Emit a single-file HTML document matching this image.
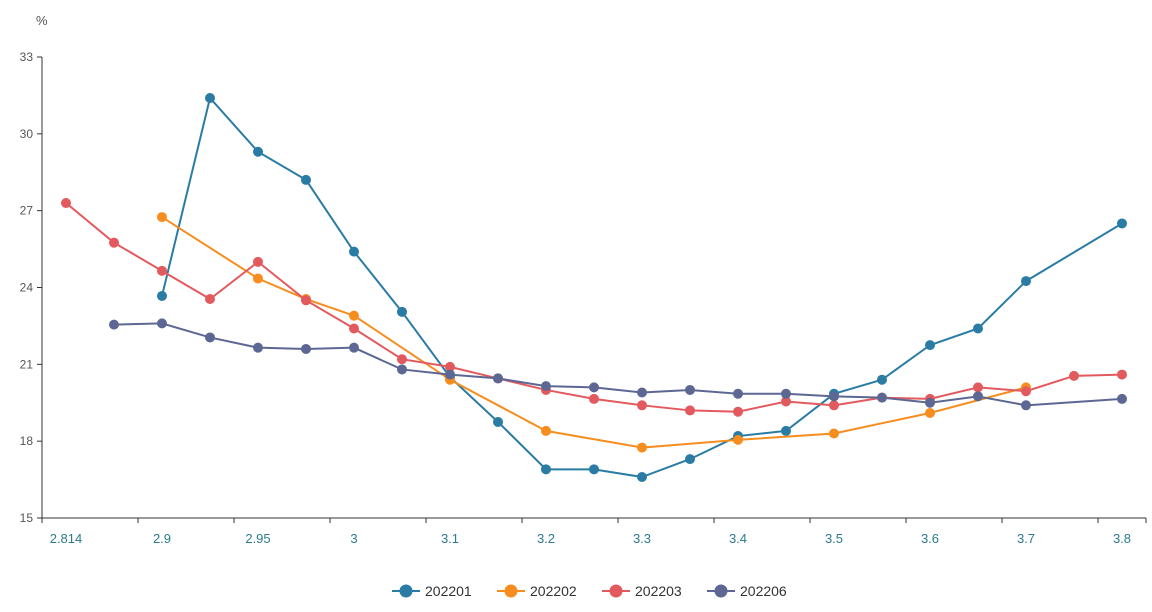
<!DOCTYPE html>
<html><head><meta charset="utf-8"><style>
body{margin:0;background:#fff;font-family:"Liberation Sans",sans-serif}
svg{display:block}
</style></head><body>
<svg id="c" width="1152" height="612"></svg>
<script>
const categories=["2.814","2.85","2.9","2.925","2.95","2.975","3","3.05","3.1","3.15","3.2","3.25","3.3","3.35","3.4","3.45","3.5","3.55","3.6","3.65","3.7","3.75","3.8"];
const s202201=[null,null,23.67,31.4,29.3,28.2,25.4,23.05,20.5,18.75,16.9,16.9,16.6,17.3,18.2,18.4,19.85,20.4,21.75,22.4,24.25,null,26.5];
const s202202=[null,null,26.75,null,24.35,23.55,22.9,null,20.4,null,18.4,null,17.75,null,18.05,null,18.3,null,19.1,null,20.1,null,null];
const s202203=[27.3,25.75,24.65,23.55,25,23.5,22.4,21.2,20.9,20.45,20,19.65,19.4,19.2,19.15,19.55,19.4,19.7,19.65,20.1,19.95,20.55,20.6];
const s202206=[null,22.55,22.6,22.05,21.65,21.6,21.65,20.8,20.6,20.45,20.15,20.1,19.9,20,19.85,19.85,19.75,19.7,19.5,19.75,19.4,null,19.65];
const yTicks=[15,18,21,24,27,30,33];
const seriesNames=["202201","202202","202203","202206"];
const colors=["#2a7ca5","#f68d1e","#e25a5e","#5c6893"];
const series=[s202201,s202202,s202203,s202206];
const NS="http://www.w3.org/2000/svg";
const svg=document.getElementById('c');
const L=42,R=1146,T=57,B=518,ymin=15,ymax=33;
const step=(R-L+2)/categories.length*0+48;
const x=i=>L+24+i*step;
const y=v=>B-(v-ymin)/(ymax-ymin)*(B-T);
function mk(t,a){const e=document.createElementNS(NS,t);for(const k in a)e.setAttribute(k,a[k]);svg.appendChild(e);return e;}
let e=mk('text',{x:36,y:25,'font-size':13,fill:'#555'});e.textContent='%';

e=mk('line',{x1:L,y1:T,x2:L,y2:B,stroke:'#333'});

yTicks.forEach(v=>{const t=mk('line',{x1:L-5,y1:y(v),x2:L,y2:y(v),stroke:'#333'});

const l=mk('text',{x:L-9,y:y(v)+4,'font-size':12,fill:'#555','text-anchor':'end'});l.textContent=v;
});
e=mk('line',{x1:L,y1:B,x2:R,y2:B,stroke:'#333'});

categories.forEach((c,i)=>{if(i%2)return;
const t=mk('line',{x1:x(i)-24,y1:B,x2:x(i)-24,y2:B+5,stroke:'#333'});

const l=mk('text',{x:x(i),y:B+25,'font-size':13,fill:'#2a7c8c','text-anchor':'middle'});l.textContent=c;
});
const t2=mk('line',{x1:R,y1:B,x2:R,y2:B+5,stroke:'#333'});

series.forEach((s,k)=>{const pts=[];s.forEach((v,i)=>{if(v!=null)pts.push([x(i),y(v)]);});
const p=mk('polyline',{points:pts.map(p=>p.join(',')).join(' '),fill:'none',stroke:colors[k],'stroke-width':2});

pts.forEach(q=>{const c=mk('circle',{cx:q[0],cy:q[1],r:4.5,fill:colors[k],stroke:colors[k]});
});});
const lx=[392,497,602,707];
seriesNames.forEach((n,k)=>{
const g=document.createElementNS(NS,'g');svg.appendChild(g);

const a=document.createElementNS(NS,'line');a.setAttribute('x1',lx[k]);a.setAttribute('x2',lx[k]+28);a.setAttribute('y1',591);a.setAttribute('y2',591);a.setAttribute('stroke',colors[k]);a.setAttribute('stroke-width',2);g.appendChild(a);
const c=document.createElementNS(NS,'circle');c.setAttribute('cx',lx[k]+14);c.setAttribute('cy',591);c.setAttribute('r',6.5);c.setAttribute('fill',colors[k]);g.appendChild(c);
const t=document.createElementNS(NS,'text');t.setAttribute('x',lx[k]+33);t.setAttribute('y',596);t.setAttribute('font-size',14);t.setAttribute('fill','#333');t.textContent=n;g.appendChild(t);});
</script>
</body></html>
